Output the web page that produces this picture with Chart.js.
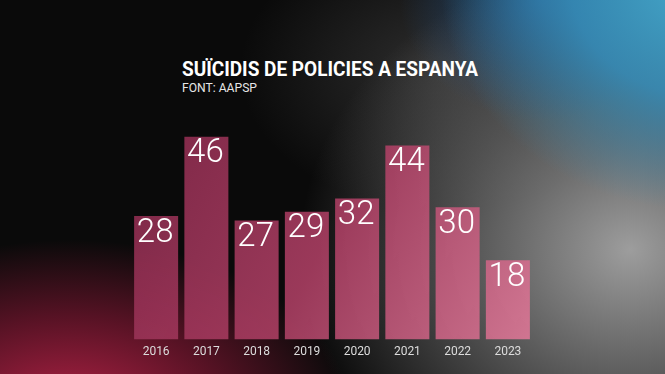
<!DOCTYPE html>
<html>
<head>
<meta charset="utf-8">
<script src="https://cdn.jsdelivr.net/npm/chart.js@4.4.1/dist/chart.umd.min.js"></script>
<style>
  html, body { margin: 0; padding: 0; }
  body {
    width: 665px; height: 374px; overflow: hidden; position: relative;
    background:
      radial-gradient(ellipse 260px 230px at 700px -20px, rgba(70,170,205,1), rgba(55,145,190,0.85) 50%, rgba(40,110,160,0) 100%),
      radial-gradient(ellipse 140px 120px at 540px 0px, rgba(35,85,140,0.8), rgba(35,85,140,0) 100%),
      radial-gradient(ellipse 280px 170px at 70px 410px, rgba(185,35,72,0.95), rgba(150,25,58,0.55) 55%, rgba(150,25,55,0) 100%),
      radial-gradient(ellipse 330px 290px at 630px 250px, rgba(165,165,165,0.95), rgba(130,130,130,0.55) 55%, rgba(100,100,100,0) 100%),
      radial-gradient(ellipse 200px 140px at 440px 70px, rgba(100,100,100,0.4), rgba(100,100,100,0) 100%),
      #0a0a0a;
  }
  #wrap { position: absolute; left: 0; top: 0; width: 665px; height: 374px; }
  .title {
    position: absolute; left: 182px; top: 57px; color: #fff;
    font-family: Roboto, sans-serif; font-weight: 700; font-size: 20px;
    transform: scaleX(0.95); transform-origin: left top; white-space: nowrap;
  }
  .sub {
    position: absolute; left: 182px; top: 80px; color: #e6e6e6;
    font-family: Roboto, sans-serif; font-weight: 400; font-size: 12.5px;
    transform: scaleX(0.97); transform-origin: left top; white-space: nowrap;
  }
</style>
</head>
<body>
<div class="title">SUÏCIDIS DE POLICIES A ESPANYA</div>
<div class="sub">FONT: AAPSP</div>
<div id="wrap"><canvas id="chart" width="665" height="374"></canvas></div>
<script>
const years = ['2016', '2017', '2018', '2019', '2020', '2021', '2022', '2023'];
const suicides = [28, 46, 27, 29, 32, 44, 30, 18];

// value labels inside the top of each bar
const valueLabels = {
    id: 'valueLabels',
    afterDatasetsDraw(chart) {
        const ctx = chart.ctx;
        const meta = chart.getDatasetMeta(0);
        ctx.save();
        ctx.fillStyle = '#ffffff';
        ctx.font = '300 33px Roboto';
        ctx.textAlign = 'center';
        ctx.textBaseline = 'top';
        meta.data.forEach((bar, i) => {
            ctx.fillText(suicides[i], bar.x - 1, bar.y + 1);
        });
        ctx.restore();
    }
};

function barFill(context) {
    const area = context.chart.chartArea;
    if (!area) return '#a03a5c';
    const g = context.chart.ctx.createLinearGradient(area.left, area.top, area.right, area.bottom);
    g.addColorStop(0, 'rgba(140,42,78,0.88)');
    g.addColorStop(0.5, 'rgba(170,62,98,0.9)');
    g.addColorStop(1, 'rgba(218,120,150,0.92)');
    return g;
}

const ctx = document.getElementById('chart').getContext('2d');
window.suicideChart = new Chart(ctx, {
    type: 'bar',
    data: {
        labels: years,
        datasets: [{
            label: 'Suïcidis',
            data: suicides,
            backgroundColor: barFill,
            borderWidth: 0,
            categoryPercentage: 1,
            barPercentage: 0.876
        }]
    },
    options: {
        responsive: false,
        animation: false,
        layout: {
            padding: { left: 131, right: 132, top: 119, bottom: 10 }
        },
        scales: {
            x: {
                grid: { display: false, drawTicks: false },
                border: { display: false },
                ticks: {
                    color: '#dcdcdc',
                    padding: 5,
                    font: { family: 'Roboto', size: 12 }
                }
            },
            y: {
                display: false,
                min: 0,
                max: 50
            }
        },
        plugins: {
            legend: { display: false },
            tooltip: { enabled: false }
        }
    },
    plugins: [valueLabels]
});
</script>
</body>
</html>
